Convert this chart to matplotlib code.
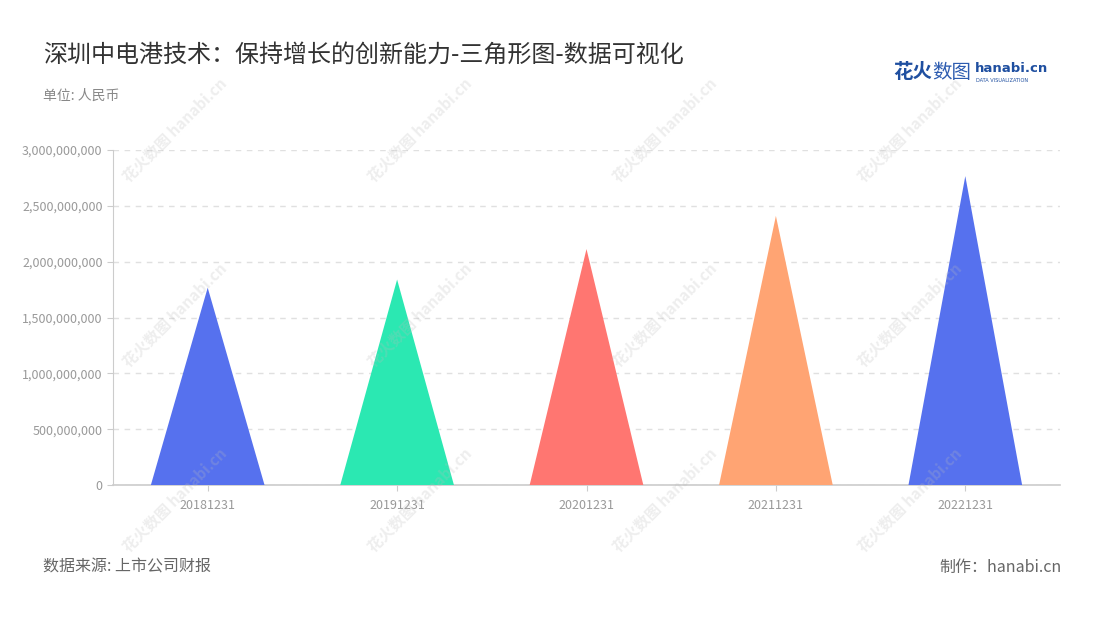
import matplotlib.pyplot as plt
import numpy as np
from matplotlib.ticker import FuncFormatter

plt.rcParams['font.family'] = ['Noto Sans CJK SC', 'DejaVu Sans']

# data
dates = ['20181231', '20191231', '20201231', '20211231', '20221231']
values = [1.767e9, 1.840e9, 2.113e9, 2.410e9, 2.766e9]
colors = ['#5671ee', '#2be8b2', '#ff7671', '#ffa473', '#5671ee']

fig = plt.figure(figsize=(11, 6.2), dpi=100)
ax = fig.add_axes([113/1100, 1-485/620, (1060-113)/1100, (485-150)/620])

half = 0.3
for i, (v, c) in enumerate(zip(values, colors)):
    ax.fill([i - half, i, i + half], [0, v, 0], color=c, lw=0, zorder=3)

ax.set_xlim(-0.5, len(dates) - 0.5)
ax.set_ylim(0, 3e9)
ax.set_yticks(np.arange(0, 3.01e9, 5e8))
ax.yaxis.set_major_formatter(FuncFormatter(lambda v, p: f'{int(v):,}'))
ax.set_xticks(range(len(dates)))
ax.set_xticklabels(dates)

ax.grid(axis='y', color='#e0e0e0', linestyle=(0, (4, 4)), lw=1, zorder=0)
for s in ['top', 'right']:
    ax.spines[s].set_visible(False)
ax.spines['left'].set_color('#cccccc')
ax.spines['bottom'].set_color('#cccccc')
ax.spines['bottom'].set_linewidth(1.2)
ax.tick_params(axis='y', colors='#cccccc', labelcolor='#999999', labelsize=9, length=4)
ax.tick_params(axis='x', colors='#cccccc', labelcolor='#999999', labelsize=9, length=4, pad=6)

# watermarks
for wx in [175, 420, 665, 910]:
    for wy in [130, 315, 500]:
        fig.text(wx/1100, 1-wy/620, '花火数图 hanabi.cn', fontsize=11, color='#bbbbbb',
                 alpha=0.25, rotation=45, ha='center', va='center', fontweight='bold')

fig.text(43/1100, 1-55/620, '深圳中电港技术：保持增长的创新能力-三角形图-数据可视化',
         fontsize=17.3, color='#333333', va='center', ha='left')
fig.text(43/1100, 1-96/620, '单位: 人民币', fontsize=10, color='#888888', va='center')
fig.text(43/1100, 1-567/620, '数据来源: 上市公司财报', fontsize=11.5, color='#666666', va='center')
fig.text(1062/1100, 1-567/620, '制作：hanabi.cn', fontsize=11.5, color='#666666', va='center', ha='right')

# logo
fig.text(893/1100, 1-72/620, '花火', fontsize=14, color='#1f4fa0', fontweight='bold', va='center')
fig.text(932/1100, 1-72/620, '数图', fontsize=14, color='#2d5cb0', va='center')
fig.text(975/1100, 1-69/620, 'hanabi.cn', fontsize=9.5, color='#1f4fa0', fontweight='bold',
         va='center', family=['DejaVu Sans'])
fig.text(976/1100, 1-80/620, 'DATA VISUALIZATION', fontsize=3.6, color='#1f4fa0',
         va='center', family=['DejaVu Sans'])

fig.savefig('out.png', dpi=100)
